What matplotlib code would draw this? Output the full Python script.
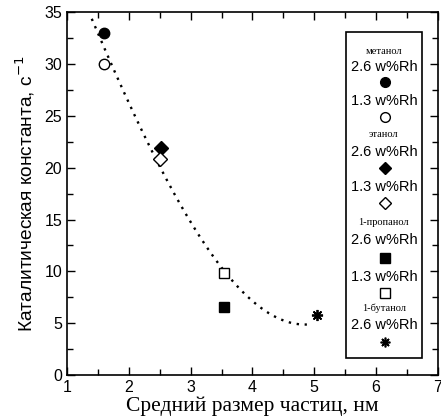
import numpy as np
import matplotlib
matplotlib.use('Agg')
import matplotlib.pyplot as plt
from matplotlib.ticker import MultipleLocator

# Данные (размер частиц, нм; константа, с^-1)
metanol_26 = (1.6, 33.0)
metanol_13 = (1.6, 30.0)
etanol_26 = (2.52, 21.9)
etanol_13 = (2.5, 20.8)
propanol_26 = (3.54, 6.6)
propanol_13 = (3.54, 9.8)
butanol_26 = (5.05, 5.8)

# Точки пунктирной линии тренда
trend_x = [1.4, 1.7, 2.47, 3.52, 4.12, 4.88]
trend_y = [34.4, 30.1, 20.7, 9.8, 6.9, 4.8]

xticks = [1, 2, 3, 4, 5, 6, 7]
yticks = [0, 5, 10, 15, 20, 25, 30, 35]

plt.rcParams['font.family'] = ['Liberation Sans', 'DejaVu Sans']

fig = plt.figure(figsize=(4.41, 4.20), dpi=100)
ax = fig.add_axes([0.152, 0.107, 0.841, 0.864])

# Линия тренда (кубическая аппроксимация)
coef = np.polyfit(trend_x, trend_y, 3)
xx = np.linspace(trend_x[0], trend_x[-1], 200)
ax.plot(xx, np.polyval(coef, xx), color='black', linestyle=(0, (1, 2.4)), linewidth=1.7)

ax.plot(*metanol_26, marker='o', color='black', markersize=7.5, linestyle='none')
ax.plot(*metanol_13, marker='o', markerfacecolor='white', markeredgecolor='black', markersize=7.5, linestyle='none')
ax.plot(*etanol_26, marker='D', color='black', markersize=7, linestyle='none')
ax.plot(*etanol_13, marker='D', markerfacecolor='white', markeredgecolor='black', markersize=7, linestyle='none')
ax.plot(*propanol_26, marker='s', color='black', markersize=7, linestyle='none')
ax.plot(*propanol_13, marker='s', markerfacecolor='white', markeredgecolor='black', markersize=7, linestyle='none')
ax.plot(*butanol_26, marker=(8, 2, 0), color='black', markersize=8, markeredgewidth=1.3, linestyle='none')

ax.set_xlim(1, 7)
ax.set_ylim(0, 35)
ax.set_xticks(xticks)
ax.set_yticks(yticks)
ax.xaxis.set_minor_locator(MultipleLocator(0.5))
ax.yaxis.set_minor_locator(MultipleLocator(2.5))
ax.tick_params(which='both', direction='in', top=True, right=True, labelsize=11.5, width=1)
ax.tick_params(which='major', length=6)
ax.tick_params(which='minor', length=4)
for s in ax.spines.values():
    s.set_linewidth(1.2)

ax.set_xlabel('Средний размер частиц, нм', family=['Liberation Serif', 'DejaVu Serif'], fontsize=15.5, labelpad=1)
ax.set_ylabel('Каталитическая константа, с$^{-1}$', fontsize=13.8, labelpad=5)

# Легенда, нарисованная вручную
lx0 = (346 - 67) / 371
lw = (422 - 346) / 371
box = plt.Rectangle((lx0, (375 - 358) / 363), lw, (358 - 32) / 363, transform=ax.transAxes,
                    facecolor='white', edgecolor='black', linewidth=1.2, zorder=3)
ax.add_patch(box)

cx = (384 - 67) / 371
mx = (385 - 67) / 371


def ypos(py):
    return (375 - py) / 363


serif = ['Liberation Serif', 'DejaVu Serif']
legend_rows = [
    ('title', 'метанол', 51),
    ('text', '2.6 w%Rh', 67),
    ('mark', dict(marker='o', color='black', markersize=7), 82),
    ('text', '1.3 w%Rh', 101),
    ('mark', dict(marker='o', markerfacecolor='white', markeredgecolor='black', markersize=7), 117),
    ('title', 'этанол', 134),
    ('text', '2.6 w%Rh', 152),
    ('mark', dict(marker='D', color='black', markersize=6.5), 168),
    ('text', '1.3 w%Rh', 187),
    ('mark', dict(marker='D', markerfacecolor='white', markeredgecolor='black', markersize=6.5), 203),
    ('title', '1-пропанол', 222),
    ('text', '2.6 w%Rh', 240),
    ('mark', dict(marker='s', color='black', markersize=6.5), 258),
    ('text', '1.3 w%Rh', 277),
    ('mark', dict(marker='s', markerfacecolor='white', markeredgecolor='black', markersize=6.5), 293),
    ('title', '1-бутанол', 308),
    ('text', '2.6 w%Rh', 325),
    ('mark', dict(marker=(8, 2, 0), color='black', markersize=7, markeredgewidth=1.2), 342),
]
for kind, val, py in legend_rows:
    if kind == 'title':
        ax.text(cx, ypos(py), val, transform=ax.transAxes, ha='center', va='center',
                fontsize=7.5, family=serif, zorder=4)
    elif kind == 'text':
        ax.text(cx, ypos(py), val, transform=ax.transAxes, ha='center', va='center',
                fontsize=10.5, zorder=4)
    else:
        ax.plot([mx], [ypos(py)], transform=ax.transAxes, linestyle='none', zorder=4,
                clip_on=False, **val)

plt.savefig('out.png', dpi=100)
